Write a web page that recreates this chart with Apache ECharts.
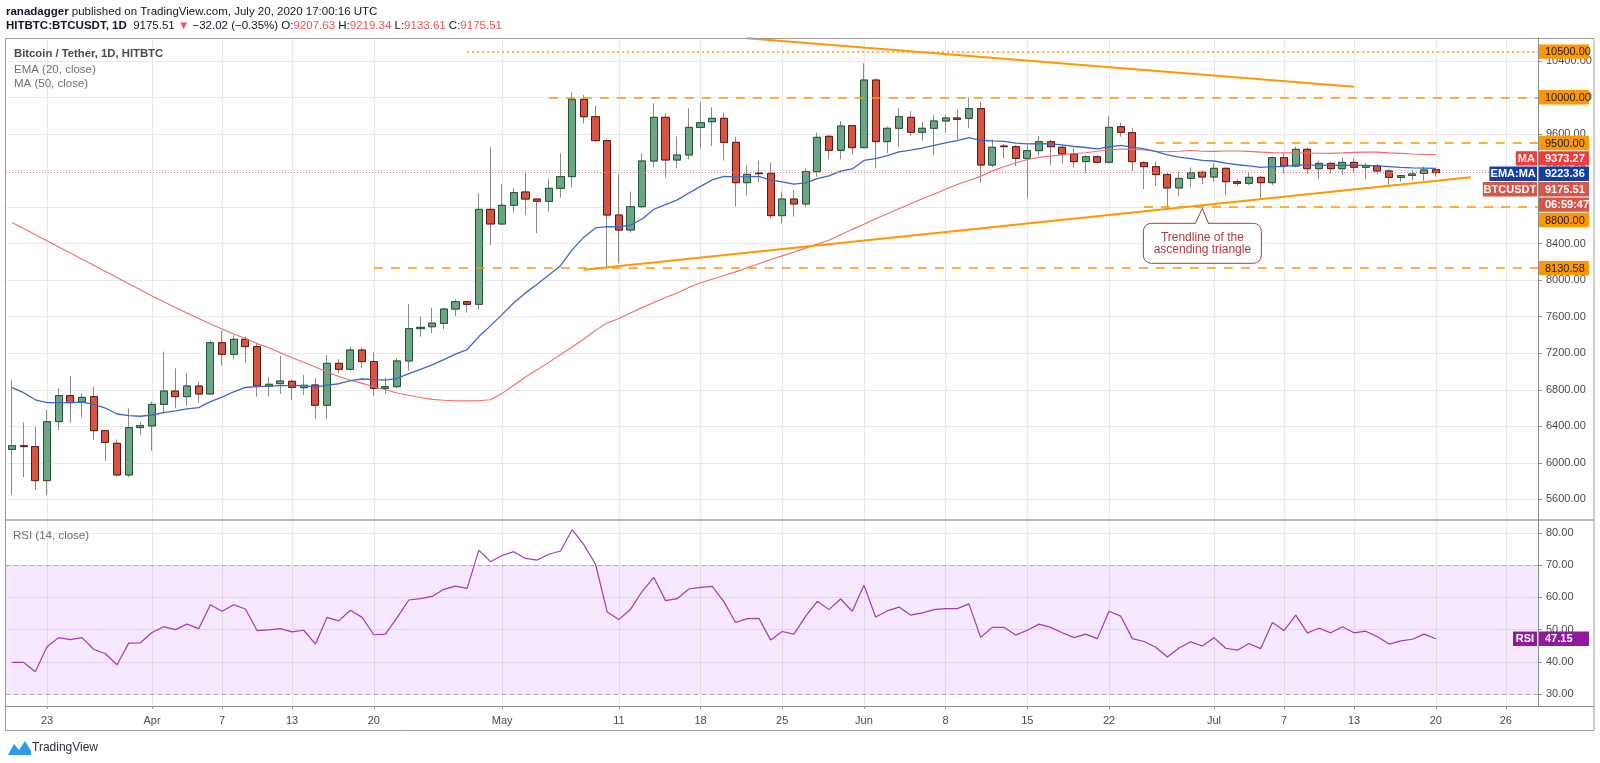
<!DOCTYPE html>
<html><head><meta charset="utf-8">
<script src="https://cdn.jsdelivr.net/npm/echarts@6/dist/echarts.min.js"></script>
<style>html,body{margin:0;padding:0;background:#fff;}#c{width:1600px;height:763px;}</style>
</head><body><div id="c"></div>
<script>
// ---------------- DATA ----------------
const startDate = '2020-03-20';
const opens = [6148,6188,6178,5806,6451,6736,6666,6725,6353,6214,
 5868,6386,6404,6640,6786,6725,6841,6754,7315,7188,
 7352,7272,6838,6867,6892,6823,6852,6630,7089,7024,
 7235,7108,6816,6834,7115,7469,7490,7527,7683,7764,
 7735,8774,8614,8818,8964,8887,8862,9004,9132,9978,
 9788,9526,8712,8548,8803,9303,9781,9314,9369,9671,
 9733,9770,9507,9066,9172,9168,8705,8887,8833,9186,
 9573,9420,9690,9449,10189,9515,9661,9781,9617,9661,
 9741,9774,9770,9876,9259,9467,9460,9332,9416,9515,
 9453,9380,9296,9350,9289,9678,9613,9285,9241,9154,
 9008,9113,9180,9128,9223,9077,9059,9124,9066,9340,
 9248,9431,9219,9277,9219,9288,9234,9248,9194,9124,
 9146,9168,9207.63];
const highs = [6907,6444,6396,6579,6816,6951,6761,6834,6360,6258,
 6597,6451,6670,7217,7035,6980,6889,7345,7447,7400,
 7381,7315,6936,7170,6914,6962,6930,7180,7133,7272,
 7264,7210,6936,7144,7738,7600,7698,7698,7790,7771,
 8949,9453,9048,9011,9186,8895,9106,9387,10054,10025,
 9908,9551,9157,8968,9387,9934,9825,9569,9879,9945,
 9890,9832,9569,9252,9307,9288,8968,8986,9223,9613,
 9590,9741,9697,10372,10207,9680,9879,9850,9733,9806,
 9806,9868,9996,9952,9540,9489,9478,9478,9577,9533,
 9478,9442,9369,9369,9795,9722,9660,9300,9296,9183,
 9186,9234,9195,9278,9234,9102,9175,9139,9350,9387,
 9460,9450,9307,9296,9340,9332,9285,9270,9212,9150,
 9205,9241,9219.34];
const lows = [5649,5842,5703,5649,6360,6440,6498,6250,6024,5849,
 5842,6305,6134,6542,6597,6622,6659,6743,7064,7133,
 7097,6724,6725,6754,6688,6743,6480,6480,6980,7009,
 7035,6732,6754,6816,7009,7381,7418,7461,7607,7644,
 7680,8384,8603,8738,8712,8512,8749,8902,9015,9715,
 9515,8129,8183,8519,8792,9234,9124,9223,9321,9442,
 9467,9307,8804,8924,9070,8676,8621,8694,8796,9131,
 9325,9321,9376,9442,9223,9387,9460,9580,9526,9369,
 9613,9540,9661,9066,9234,9332,9248,8895,9358,9259,
 9278,9234,9168,9278,9278,9569,9194,8993,9030,8796,
 8920,9011,9051,9077,8931,9030,9037,8895,9041,9168,
 9234,9161,9106,9168,9150,9168,9102,9157,9033,9077,
 9095,9088,9133.61];
const closes = [6188,6178,5806,6451,6736,6659,6717,6353,6225,5868,
 6386,6407,6640,6786,6725,6841,6754,7315,7188,7352,
 7272,6841,6860,6896,6827,6849,6630,7089,7024,7235,
 7108,6816,6834,7115,7469,7483,7530,7683,7764,7735,
 8774,8614,8818,8957,8887,8862,9004,9132,9978,9788,
 9526,8712,8548,8803,9303,9781,9314,9369,9671,9722,
 9770,9507,9066,9157,9164,8705,8887,8833,9186,9562,
 9420,9686,9449,10189,9515,9661,9788,9617,9661,9741,
 9774,9759,9876,9259,9453,9460,9332,9416,9515,9460,
 9380,9296,9350,9289,9671,9617,9296,9241,9154,9008,
 9113,9175,9128,9223,9077,9059,9124,9066,9340,9248,
 9431,9219,9277,9219,9288,9234,9252,9194,9124,9143,
 9161,9205,9175.51];
const ema20 = [6823,6768,6690,6660,6660,6660,6665,6640,6600,6535,
 6518,6510,6524,6550,6568,6590,6605,6670,6720,6778,
 6825,6835,6840,6845,6845,6846,6828,6850,6866,6900,
 6918,6912,6906,6924,6976,7024,7072,7130,7190,7240,
 7382,7499,7625,7752,7860,7955,8055,8158,8331,8470,
 8571,8584,8581,8602,8669,8775,8826,8878,8953,9026,
 9097,9136,9130,9132,9135,9094,9074,9051,9064,9111,
 9140,9192,9216,9309,9329,9361,9402,9422,9445,9473,
 9502,9526,9559,9530,9523,9517,9499,9491,9493,9490,
 9480,9462,9451,9436,9458,9473,9456,9436,9409,9371,
 9346,9330,9311,9303,9281,9262,9250,9233,9242,9243,
 9259,9257,9258,9256,9258,9256,9255,9250,9242,9234,
 9228,9226,9223.36];
const ma50 = [8631,8564,8497,8430,8363,8296,8229,8162,8095,8028,
 7961,7894,7827,7762,7700,7640,7580,7520,7465,7410,
 7360,7305,7260,7205,7150,7100,7050,6995,6945,6905,
 6870,6834,6800,6765,6740,6715,6695,6685,6680,6678,
 6680,6690,6760,6850,6940,7020,7100,7185,7268,7355,
 7450,7530,7580,7640,7700,7755,7810,7860,7920,7970,
 8010,8050,8090,8135,8180,8225,8265,8305,8350,8395,
 8435,8495,8555,8610,8670,8725,8780,8835,8890,8940,
 8995,9045,9090,9135,9195,9240,9282,9320,9343,9358,
 9370,9385,9394,9410,9423,9434,9430,9423,9410,9405,
 9410,9418,9410,9408,9413,9413,9408,9400,9395,9394,
 9392,9390,9388,9387,9392,9398,9400,9400,9392,9387,
 9380,9376,9373.27];
const rsi14 = [39.8,39.8,36.9,44.7,47.5,46.9,47.5,43.9,42.5,39.1,
 45.8,45.9,49.1,50.9,50.0,51.7,50.3,57.7,55.7,57.7,
 56.4,49.7,49.9,50.3,49.3,49.8,45.5,53.8,52.7,56.0,
 53.8,48.4,48.6,53.7,59.2,59.6,60.3,62.5,63.5,62.8,
 74.7,71.1,73.0,74.2,72.1,71.6,73.4,74.4,81.0,76.4,
 70.3,55.5,53.1,56.3,61.9,66.2,59.0,59.6,62.6,63.1,
 63.4,58.7,52.2,53.4,53.5,46.8,49.4,48.6,54.1,58.8,
 56.2,59.5,55.7,63.8,53.9,55.8,57.0,54.5,55.2,56.2,
 56.5,56.5,58.0,47.6,50.7,50.7,48.3,49.8,51.7,50.7,
 49.0,47.5,48.6,47.2,55.7,54.2,47.2,46.3,44.5,41.5,
 44.3,46.2,44.9,47.5,44.2,43.6,45.7,44.1,52.2,49.7,
 54.5,49.0,50.4,49.0,50.9,49.0,49.5,47.8,45.5,46.5,
 47.0,48.6,47.15];

const xTickDates = ['2020-03-23','2020-04-01','2020-04-07','2020-04-13','2020-04-20','2020-05-01','2020-05-11','2020-05-18','2020-05-25','2020-06-01','2020-06-08','2020-06-15','2020-06-22','2020-07-01','2020-07-07','2020-07-13','2020-07-20','2020-07-26'];
const xTickLabels = ['23','Apr','7','13','20','May','11','18','25','Jun','8','15','22','Jul','7','13','20','26'];
const priceTicks = [5600,6000,6400,6800,7200,7600,8000,8400,8800,9200,9600,10000,10400];
const rsiTicks = [30,40,50,60,70,80];

const levelPrices = [10500, 10000, 9500, 8800, 8130.58];
const levelStartDates = ['2020-04-28','2020-05-05','2020-06-26','2020-06-25','2020-04-20'];
const levelDotted = [true, false, false, false, false];

const trendDescDates = ['2020-05-22','2020-07-13'];
const trendDescPrices = [10645, 10115];
const trendAscDates = ['2020-05-08','2020-07-23'];
const trendAscPrices = [8112, 9125];
const calloutDate = '2020-06-30';
const calloutLines = ['Trendline of the', 'ascending triangle'];
const countdownText = '06:59:47';

// ---------------- HELPERS ----------------
const DAY = 86400000;
const t0 = Date.parse(startDate + 'T00:00:00Z');
const dayIndex = d => Math.round((Date.parse(d + 'T00:00:00Z') - t0) / DAY);
const tickIdx = xTickDates.map(dayIndex);
const tickLabelMap = {};
tickIdx.forEach((v, k) => { tickLabelMap[v] = xTickLabels[k]; });

const GL = 6, GR = 1538, GT = 38, SEP = 520, GB = 706, FR = 1594, FB = 730;
const xMin = -0.514, xMax = 130.76;
const yMin = 5375, yMax = 10649;
const rMin = 26.27, rMax = 84.04;

const UP = '#6ba583', DOWN = '#d75442', UPB = '#225437', DOWNB = '#5b1a13', WICK = '#8a8a8a';
const ORANGE = '#ff9800';
const GRID = '#e9e9e9';
const FONT = 'Liberation Sans, Arial, sans-serif';

const candleData = closes.map((c, i) => [i, opens[i], c, lows[i], highs[i]]);
const bodyData = closes.map((c, i) => [i, opens[i], c, Math.min(opens[i], c), Math.max(opens[i], c)]);
const lastClose = closes[closes.length - 1];
const lastEma = ema20[ema20.length - 1];
const lastMa = ma50[ma50.length - 1];
const lastRsi = rsi14[rsi14.length - 1];

const levelLines = levelPrices.map((p, k) => [
  {coord: [dayIndex(levelStartDates[k]), p], lineStyle: {color: ORANGE, width: levelDotted[k] ? 1.5 : 1.6, type: levelDotted[k] ? [2, 3] : [9, 8]}},
  {coord: [xMax, p]}
]);
const trendLines = [
  [{coord: [dayIndex(trendDescDates[0]), trendDescPrices[0]], lineStyle: {color: ORANGE, width: 2, type: 'solid'}},
   {coord: [dayIndex(trendDescDates[1]), trendDescPrices[1]]}],
  [{coord: [dayIndex(trendAscDates[0]), trendAscPrices[0]], lineStyle: {color: ORANGE, width: 2, type: 'solid'}},
   {coord: [dayIndex(trendAscDates[1]), trendAscPrices[1]]}]
];

const chart = echarts.init(document.getElementById('c'), null, {renderer: 'canvas'});
const option = {
  animation: false,
  backgroundColor: '#ffffff',
  textStyle: {fontFamily: FONT},
  grid: [
    {left: GL, top: GT, width: GR - GL, height: SEP - GT},
    {left: GL, top: SEP, width: GR - GL, height: GB - SEP}
  ],
  xAxis: [
    {type: 'value', gridIndex: 0, min: xMin, max: xMax,
     axisLine: {show: false, onZero: false}, axisLabel: {show: false},
     axisTick: {show: false, customValues: tickIdx},
     splitLine: {show: true, customValues: tickIdx, lineStyle: {color: GRID, width: 1}}},
    {type: 'value', gridIndex: 1, min: xMin, max: xMax,
     axisLine: {show: true, onZero: false, lineStyle: {color: '#8c8c8c'}},
     axisTick: {show: true, customValues: tickIdx, length: 3, lineStyle: {color: '#8c8c8c'}},
     axisLabel: {show: true, customValues: tickIdx, formatter: v => tickLabelMap[Math.round(v)] || '',
       color: '#4a4a4a', fontSize: 11, margin: 9, fontFamily: FONT},
     splitLine: {show: true, customValues: tickIdx, lineStyle: {color: GRID, width: 1}}}
  ],
  yAxis: [
    {type: 'value', gridIndex: 0, position: 'right', min: yMin, max: yMax,
     axisLine: {show: true, onZero: false, lineStyle: {color: '#8c8c8c'}},
     axisTick: {show: true, customValues: priceTicks, length: 4, lineStyle: {color: '#8c8c8c'}},
     axisLabel: {customValues: priceTicks, formatter: v => v.toFixed(2), color: '#4a4a4a', fontSize: 11, margin: 8, fontFamily: FONT},
     splitLine: {show: true, customValues: priceTicks, lineStyle: {color: GRID, width: 1}}},
    {type: 'value', gridIndex: 1, position: 'right', min: rMin, max: rMax,
     axisLine: {show: true, onZero: false, lineStyle: {color: '#8c8c8c'}},
     axisTick: {show: true, customValues: rsiTicks, length: 4, lineStyle: {color: '#8c8c8c'}},
     axisLabel: {customValues: rsiTicks, formatter: v => v.toFixed(2), color: '#4a4a4a', fontSize: 11, margin: 8, fontFamily: FONT},
     splitLine: {show: true, customValues: rsiTicks, lineStyle: {color: GRID, width: 1}}}
  ],
  series: [
    {name: 'lastPrice', type: 'line', xAxisIndex: 0, yAxisIndex: 0, data: [], z: 1, silent: true,
     markLine: {symbol: ['none', 'none'], silent: true, animation: false, label: {show: false},
       lineStyle: {color: '#ef7d80', width: 1, type: [1, 2]}, data: [{yAxis: lastClose}]}},
    {name: 'wicks', type: 'candlestick', xAxisIndex: 0, yAxisIndex: 0, data: candleData, barWidth: 7.6, z: 3, silent: true,
     itemStyle: {color: UP, color0: DOWN, borderColor: WICK, borderColor0: WICK, borderWidth: 1}},
    {name: 'bodies', type: 'candlestick', xAxisIndex: 0, yAxisIndex: 0, data: bodyData, barWidth: 7.6, z: 3, silent: true,
     itemStyle: {color: UP, color0: DOWN, borderColor: UPB, borderColor0: DOWNB, borderWidth: 1}},
    {name: 'MA (50, close)', type: 'line', xAxisIndex: 0, yAxisIndex: 0, data: ma50.map((v, i) => [i, v]),
     showSymbol: false, z: 4, silent: true, lineStyle: {color: '#f36b6b', width: 1.1}},
    {name: 'EMA (20, close)', type: 'line', xAxisIndex: 0, yAxisIndex: 0, data: ema20.map((v, i) => [i, v]),
     showSymbol: false, z: 4, silent: true, lineStyle: {color: '#3c67c8', width: 1.3}},
    {name: 'drawings', type: 'line', xAxisIndex: 0, yAxisIndex: 0, data: [], z: 6, silent: true,
     markLine: {symbol: ['none', 'none'], silent: true, animation: false, label: {show: false},
       data: levelLines.concat(trendLines)}},
    {name: 'RSI (14, close)', type: 'line', xAxisIndex: 1, yAxisIndex: 1, data: rsi14.map((v, i) => [i, v]),
     showSymbol: false, z: 4, silent: true, lineStyle: {color: '#a33ab8', width: 1.2},
     markArea: {silent: true, itemStyle: {color: 'rgba(153,0,255,0.09)'}, data: [[{yAxis: 30}, {yAxis: 70}]]},
     markLine: {symbol: ['none', 'none'], silent: true, animation: false, label: {show: false},
       lineStyle: {color: '#a8a8a8', width: 1, type: [4, 4]}, data: [{yAxis: 30}, {yAxis: 70}]}}
  ]
};
chart.setOption(option);

// ---------------- OVERLAY (labels, texts, callout) ----------------
const G = [];
const txt = (x, y, text, style) => G.push({type: 'text', z: 100, silent: true,
  style: Object.assign({x: x, y: y, text: text, fill: '#131722', font: '12px ' + FONT, verticalAlign: 'middle'}, style)});
const rect = (x, y, w, h, fill) => G.push({type: 'rect', z: 99, silent: true,
  shape: {x: x, y: y, width: w, height: h}, style: {fill: fill}});
const line = (x1, y1, x2, y2, color, w) => G.push({type: 'line', z: 98, silent: true,
  shape: {x1: x1, y1: y1, x2: x2, y2: y2}, style: {stroke: color, lineWidth: w}});

// frame
G.push({type: 'rect', z: 97, silent: true, shape: {x: 5.5, y: GT + 0.5, width: FR - 5.5, height: FB - GT}, style: {fill: 'none', stroke: '#9a9a9a', lineWidth: 1}});
line(6, SEP, FR, SEP, '#a3a3a3', 1.6);
line(6, GB + 0.5, FR, GB + 0.5, '#8c8c8c', 1);
line(GR + 0.5, GT, GR + 0.5, GB, '#8c8c8c', 1);

// header
const HF = '11.5px ' + FONT;
G.push({type: 'text', z: 100, silent: true, style: {x: 6, y: 12, verticalAlign: 'middle',
  text: '{b|ranadagger}{n| published on TradingView.com, July 20, 2020 17:00:16 UTC}',
  rich: {b: {font: 'bold ' + HF, fill: '#131722'}, n: {font: HF, fill: '#131722'}}}});
G.push({type: 'text', z: 100, silent: true, style: {x: 6, y: 26, verticalAlign: 'middle',
  text: '{b|HITBTC:BTCUSDT, 1D}{n|  9175.51 }{r|▼}{n| \u221232.02 (\u22120.35%) O:}{r|9207.63}{n| H:}{r|9219.34}{n| L:}{r|9133.61}{n| C:}{r|9175.51}',
  rich: {b: {font: 'bold ' + HF, fill: '#131722'}, n: {font: HF, fill: '#131722'}, r: {font: HF, fill: '#ef5350'}}}});
txt(14, 54, 'Bitcoin / Tether, 1D, HITBTC', {fill: '#4a4a4a', font: 'bold 11.3px ' + FONT});
txt(14, 70, 'EMA (20, close)', {fill: '#6f6f6f', font: '11.5px ' + FONT});
txt(14, 84, 'MA (50, close)', {fill: '#6f6f6f', font: '11.5px ' + FONT});
txt(13, 536, 'RSI (14, close)', {fill: '#6f6f6f', font: '11.5px ' + FONT});

// price axis labels with backgrounds
const yPix = v => chart.convertToPixel({yAxisIndex: 0}, v);
const marks = [
  {v: 10500, t: '10500.00', bg: ORANGE, fg: '#1a1a1a'},
  {v: 10000, t: '10000.00', bg: ORANGE, fg: '#1a1a1a'},
  {v: 9500, t: '9500.00', bg: ORANGE, fg: '#1a1a1a'},
  {v: lastMa, t: lastMa.toFixed(2), bg: '#f23b3b', fg: '#ffffff', tag: 'MA', bold: true},
  {v: lastEma, t: lastEma.toFixed(2), bg: '#123fa3', fg: '#ffffff', tag: 'EMA:MA', bold: true},
  {v: lastClose, t: lastClose.toFixed(2), bg: '#d3574b', fg: '#ffffff', tag: 'BTCUSDT', sub: countdownText, bold: true},
  {v: 8800, t: '8800.00', bg: ORANGE, fg: '#1a1a1a'},
  {v: 8130.58, t: '8130.58', bg: ORANGE, fg: '#1a1a1a'}
];
const LH = 15.4;
let prevBottom = -1e9;
marks.forEach(m => {
  const nat = yPix(m.v);
  const n = m.sub ? 2 : 1;
  const top = Math.max(nat - LH / 2, prevBottom);
  prevBottom = top + LH * n;
  const font = (m.bold ? 'bold ' : '') + '11px ' + FONT;
  for (let k = 0; k < n; k++) {
    const cy = top + LH * k + LH / 2;
    rect(GR + 1, cy - 7.2, 50, 14.4, m.bg);
    txt(GR + 7, cy + 0.5, k === 0 ? m.t : m.sub, {fill: m.fg, font: font});
  }
  if (m.tag) {
    const cy = top + LH / 2;
    const w = m.tag.length * 6.6 + 9;
    rect(GR - w, cy - 7.2, w - 1, 14.4, m.bg);
    txt(GR - w / 2 - 0.5, cy + 0.5, m.tag, {fill: m.fg, font: font, align: 'center'});
  }
});
// RSI label
{
  const cy = chart.convertToPixel({yAxisIndex: 1}, lastRsi);
  rect(GR + 1, cy - 7.2, 50, 14.4, '#8e1b9c');
  txt(GR + 7, cy + 0.5, lastRsi.toFixed(2), {fill: '#fff', font: 'bold 11px ' + FONT});
  rect(GR - 25, cy - 7.2, 24, 14.4, '#8e1b9c');
  txt(GR - 13, cy + 0.5, 'RSI', {fill: '#fff', font: 'bold 11px ' + FONT, align: 'center'});
}

// callout
{
  const ci = dayIndex(calloutDate);
  const ai = dayIndex(trendAscDates[0]), bi = dayIndex(trendAscDates[1]);
  const tv = trendAscPrices[0] + (trendAscPrices[1] - trendAscPrices[0]) * (ci - ai) / (bi - ai);
  const tip = chart.convertToPixel({xAxisIndex: 0, yAxisIndex: 0}, [ci, tv]);
  const tx = tip[0], ty = tip[1] + 3;
  const top = ty + 15, left = tx - 59, w = 118, h = 40;
  const red = '#b03a3f';
  G.push({type: 'rect', z: 101, silent: true, shape: {x: left, y: top, width: w, height: h, r: 8}, style: {fill: '#fff', stroke: red, lineWidth: 1}});
  G.push({type: 'polygon', z: 102, silent: true, shape: {points: [[tx - 7, top + 1], [tx, ty], [tx + 6, top + 1]]}, style: {fill: '#fff'}});
  G.push({type: 'polyline', z: 103, silent: true, shape: {points: [[tx - 7, top], [tx, ty], [tx + 6, top]]}, style: {stroke: red, lineWidth: 1, fill: null}});
  G.push({type: 'text', z: 104, silent: true, style: {x: tx, y: top + h / 2 + 0.5, text: calloutLines.join('\n'), align: 'center', verticalAlign: 'middle',
    fill: red, font: '12px ' + FONT, lineHeight: 12}});
}

// TradingView logo
G.push({type: 'polygon', z: 100, silent: true, shape: {points: [[8, 755], [14, 744], [19, 750], [25, 741], [31, 751], [31, 755]]}, style: {fill: '#2e9be8'}});
txt(32, 748, 'TradingView', {fill: '#2a2e39', font: '12px ' + FONT});

chart.setOption({graphic: G});
</script>
</body></html>
